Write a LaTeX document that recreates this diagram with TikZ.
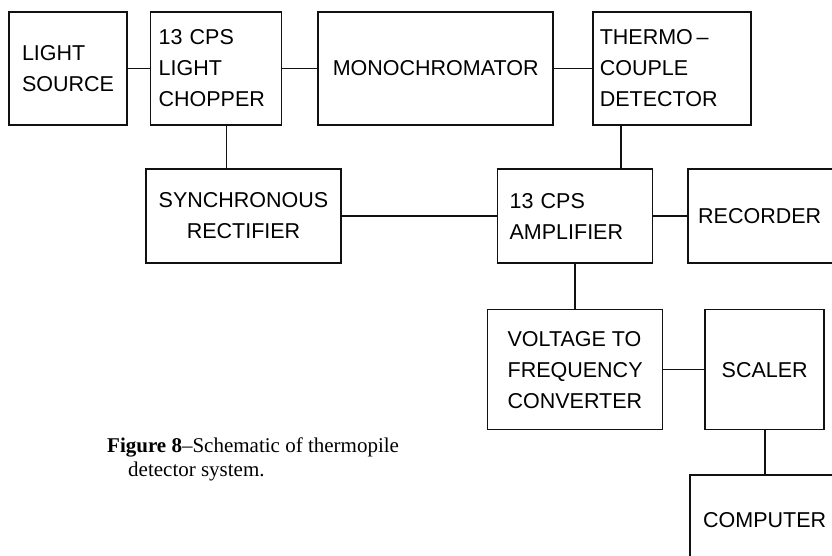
\documentclass[tikz,border=0pt]{standalone}
\usepackage{fontspec}
\setmainfont{Liberation Serif}
\newfontfamily\letterfont{Liberation Sans}
\usetikzlibrary{positioning}
\definecolor{colInk}{HTML}{111111}
\tikzset{
  ubox/.style={draw=colInk,line width=1.6pt,fill=white,inner sep=0pt,align=center,
    font=\letterfont\fontsize{21.5}{31}\selectfont},
  uline/.style={line width=1.6pt,draw=colInk},
}

\begin{document}
\begin{tikzpicture}[x=1pt,y=1pt,node distance=40pt]
      \useasboundingbox (0,0) rectangle (832,-556);
      % top row
      \node[ubox,align=left,minimum width=118pt,minimum height=113pt] (ls) at (68,-68.5)
        {LIGHT\\SOURCE};
      \node[ubox,align=left,text width=115pt,minimum width=131pt,minimum height=113pt,
        right=22pt of ls] (ch) {13 CPS\\LIGHT\\CHOPPER};
      \node[ubox,minimum width=235pt,minimum height=113pt,right=35pt of ch] (mono)
        {MONOCHROMATOR};
      \node[ubox,align=left,text width=144pt,minimum width=158pt,minimum height=113pt,
        right=38pt of mono] (tc) {THERMO\,\textendash\\COUPLE\\DETECTOR};
      % middle row
      \node[ubox,minimum width=195pt,minimum height=94pt] (sr) at (243.5,-216)
        {SYNCHRONOUS\\RECTIFIER};
      \node[ubox,align=left,text width=131pt,minimum width=155pt,minimum height=94pt,
        right=155pt of sr] (amp) {13 CPS\\AMPLIFIER};
      \node[ubox,align=left,text width=140pt,minimum width=160pt,minimum height=94pt,
        right=34pt of amp] (rec) {RECORDER};
      % lower rows
      \node[ubox,align=left,minimum width=175pt,minimum height=120pt,below=45pt of amp] (vf)
        {VOLTAGE TO\\FREQUENCY\\CONVERTER};
      \node[ubox,minimum width=119pt,minimum height=120pt,right=41pt of vf] (sc) {SCALER};
      \node[ubox,align=left,minimum width=149pt,minimum height=90pt,below=44pt of sc] (comp)
        {COMPUTER};
      \draw[uline] (ls) -- (ch); \draw[uline] (ch.east) -- (ch.east -| mono.west);
      \draw[uline] (mono) -- (tc);
      \draw[uline] ([xshift=10.5pt]ch.south) -- ([xshift=10.5pt]ch.south |- sr.north);
      \draw[uline] ([xshift=-51pt]tc.south) -- ([xshift=-51pt]tc.south |- amp.north);
      \draw[uline] (sr) -- (amp); \draw[uline] (amp) -- (rec);
      \draw[uline] (amp.south) -- (amp.south |- vf.north);
      \draw[uline] (vf) -- (sc); \draw[uline] (sc.south) -- (sc.south |- comp.north);
      \node[anchor=north west,inner sep=0pt,align=left,font=\fontsize{21}{24}\selectfont] (cap)
        at (107,-438) {\textbf{Figure 8}--Schematic of thermopile\\
        \hspace*{21pt}detector system.};
    \end{tikzpicture}
\end{document}
